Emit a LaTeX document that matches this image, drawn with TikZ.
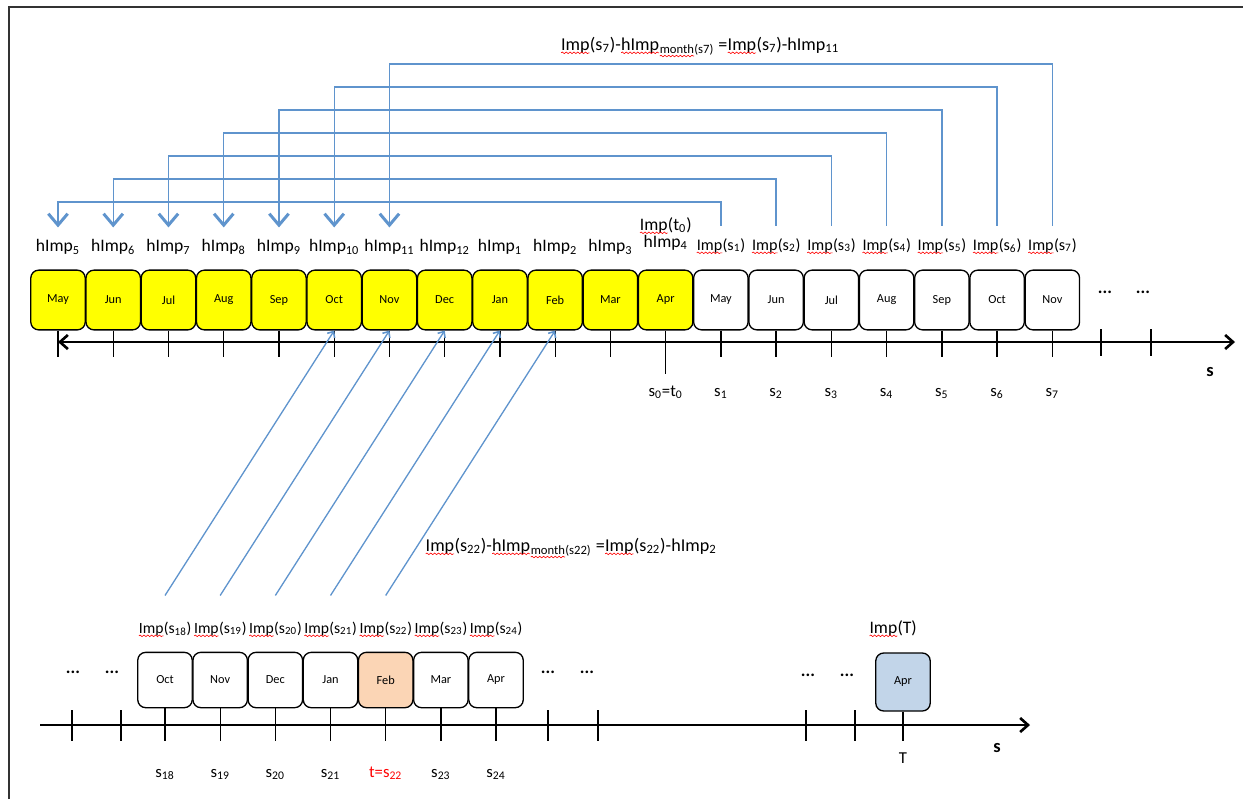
\documentclass[tikz,border=0pt]{standalone}
\usepackage{fontspec}
\setmainfont{Carlito}
\usetikzlibrary{arrows.meta,decorations.pathmorphing}
\newcommand\rw[1]{\tikz[baseline=(wv.base)]{\node[inner sep=0pt, outer sep=0pt, anchor=base] (wv) {#1};
  \draw[red, line width=0.35pt, decorate, decoration={snake, amplitude=0.45pt, segment length=2.2pt}] ([yshift=-1.6pt]wv.base west) -- ([yshift=-1.6pt]wv.base east);}}
\definecolor{yel}{RGB}{255,255,0}
\definecolor{feb}{RGB}{251,213,181}
\definecolor{tbl}{RGB}{194,213,233}
\definecolor{lblue}{RGB}{95,148,205}
\begin{document}
\begin{tikzpicture}[x=0.02cm,y=-0.02cm,
  box/.style={draw, line width=0.75pt, rounded corners=4.5pt, minimum width=31pt, minimum height=34pt, inner sep=0pt, font=\fontsize{7}{8}\selectfont},
  lbox/.style={box, minimum height=31.5pt},
  lbl/.style={inner sep=0pt, anchor=base, text height=7.5pt, text depth=2.5pt, font=\fontsize{10}{12}\selectfont},
  ilbl/.style={lbl, font=\fontsize{9.2}{11}\selectfont},
  slbl/.style={lbl, font=\fontsize{9.5}{11}\selectfont},
  dots/.style={inner sep=0pt, font=\bfseries\fontsize{10}{12}\selectfont},
  tick/.style={line width=0.75pt},
  axis/.style={line width=1pt},
  elb/.style={draw=lblue, line width=0.75pt, shorten >=6pt, shorten <=6pt, -{Straight Barb[width=11pt,length=6.5pt,line width=1.7pt]}},
  diag/.style={draw=lblue, line width=0.75pt, -{Straight Barb[width=5pt,length=2.8pt,line width=0.9pt]}}
]
\useasboundingbox (0,0) rectangle (1243,799);
% frame
\draw[line width=1.2pt, black!80] (9,799) -- (9,7) -- (1243,7);

% ---------- top row ----------
\foreach \m [count=\i from 0] in {May,Jun,Jul,Aug,Sep,Oct,Nov,Dec,Jan,Feb,Mar,Apr} {
  \node[box, fill=yel] (t\i) at ({58+55.24*\i},300) {\m};
}
\foreach \m [count=\i from 12] in {May,Jun,Jul,Aug,Sep,Oct,Nov} {
  \node[box, fill=white] (t\i) at ({58+55.24*\i},300) {\m};
}
\node[dots] (d1) at (1105,292) {...};
\node[dots] (d2) at (1143,292) {...};

% axis
\coordinate (axL) at (58,342);
\coordinate (axR) at (1235,342);
\draw[axis, {Straight Barb[width=8pt,length=4.5pt,line width=1.5pt]}-{Straight Barb[width=8pt,length=4.5pt,line width=1.5pt]}] (axL) -- (axR);
\foreach \i in {0,...,10,12,13,14,15,16,17,18} {
  \draw[tick] (t\i.south) -- ++(0,26);
}
\draw[tick] (t11.south) -- ++(0,43);
\draw[tick] (1101,329) -- (1101,356);
\draw[tick] (1151,329) -- (1151,356);
\node[inner sep=0pt, font=\bfseries\fontsize{10.5}{12}\selectfont, anchor=base] (sA) at (1210,376) {s};

% hImp labels
\foreach \i in {0,...,10} {
  \pgfmathtruncatemacro\n{mod(\i+4,12)+1}
  \node[lbl] (h\i) at ({58+55.24*\i},251.5) {hImp\textsubscript{\n}};
}
\node[lbl] (h11) at ({58+55.24*11},247) {hImp\textsubscript{4}};
\node[lbl] (it0) at ({58+55.24*11},230) {\rw{Imp}(t\textsubscript{0})};
\foreach \k in {1,...,7} {
  \node[ilbl] (is\k) at ({58+55.24*(11+\k)},250) {\rw{Imp}(s\textsubscript{\k})};
}
% s labels
\node[slbl] (s0) at ({58+55.24*11},396) {s\textsubscript{0}=t\textsubscript{0}};
\foreach \k in {1,...,7} {
  \node[slbl] (s\k) at ({58+55.24*(11+\k)},396) {s\textsubscript{\k}};
}

% elbow connectors
\foreach \k in {1,...,7} {
  \pgfmathtruncatemacro\j{\k-1}
  \coordinate (lv\k) at (0,{202-23*(\k-1)});
  \draw[elb] (is\k.north) -- (is\k.north |- lv\k) -| (h\j.north);
}

% formulas
\node[lbl, font=\fontsize{10.3}{12}\selectfont] (f1) at (700,50) {\rw{Imp}(s\textsubscript{7})-\rw{hImp}\textsubscript{\rw{month}(s7)} =\rw{Imp}(s\textsubscript{7})-hImp\textsubscript{11}};
\node[lbl, font=\fontsize{10.3}{12}\selectfont] (f2) at (571,551) {\rw{Imp}(s\textsubscript{22})-\rw{hImp}\textsubscript{\rw{month}(s22)} =\rw{Imp}(s\textsubscript{22})-hImp\textsubscript{2}};

% ---------- bottom row ----------
\foreach \m/\f [count=\k from 18] in {Oct/white,Nov/white,Dec/white,Jan/white,Feb/feb,Mar/white,Apr/white} {
  \node[lbox, fill=\f] (b\k) at ({165+55.17*(\k-18)},680) {\m};
  \node[ilbl, font=\fontsize{8.9}{11}\selectfont] (bl\k) at ({165+55.17*(\k-18)},633) {\rw{Imp}(s\textsubscript{\k})};
  \draw[tick] (b\k.south) -- ++(0,33);
}
\foreach \k in {18,19,20,21,23,24} {
  \node[slbl] (bs\k) at ({165+55.17*(\k-18)},777) {s\textsubscript{\k}};
}
\node[slbl, text=red] (bs22) at ({165+55.17*4},777) {t=s\textsubscript{22}};

\node[lbox, fill=tbl, minimum height=33pt] (bT) at (903,682) {Apr};
\draw[tick] (bT.south) -- ++(0,29);
\node[lbl] (iT) at (893,633) {\rw{Imp}(T)};
\node[slbl] (T) at (903,763) {T};

\node[dots] (d3) at (73,672) {...};
\node[dots] (d4) at (112,672) {...};
\node[dots] (d5) at (548,672) {...};
\node[dots] (d6) at (587,672) {...};
\node[dots] (d7) at (808,675) {...};
\node[dots] (d8) at (847,675) {...};

\coordinate (bxL) at (40,725);
\coordinate (bxR) at (1030,725);
\draw[axis, -{Straight Barb[width=8pt,length=4.5pt,line width=1.5pt]}] (bxL) -- (bxR);
\foreach \x in {72,121,548,598,806,855} {
  \draw[tick] (\x,710) -- (\x,741);
}
\node[inner sep=0pt, font=\bfseries\fontsize{10.5}{12}\selectfont, anchor=base] (sB) at (997,752) {s};

% diagonal connectors
\foreach \k in {18,...,22} {
  \pgfmathtruncatemacro\j{\k-13}
  \draw[diag] (bl\k.north) ++(0,-24) -- (t\j.south);
}
\end{tikzpicture}
\end{document}
